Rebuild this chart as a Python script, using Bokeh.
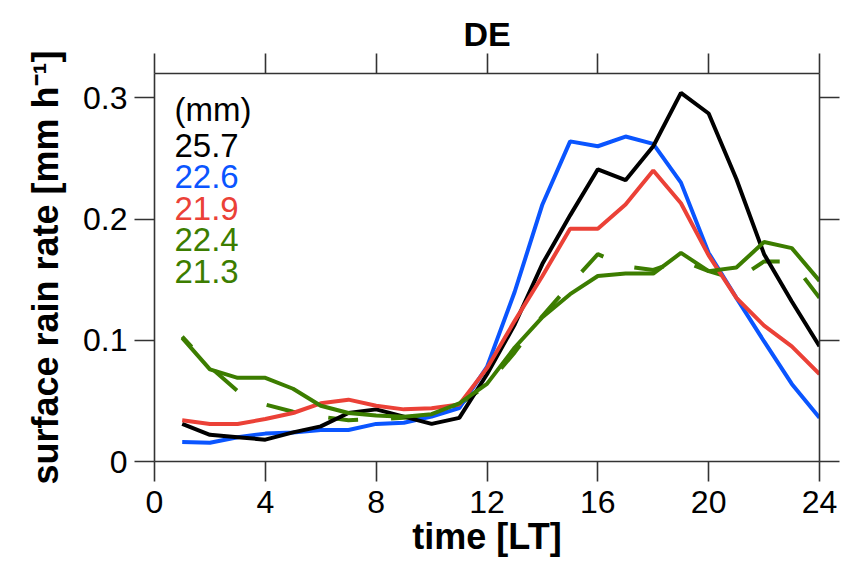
from bokeh.plotting import figure
from bokeh.models import LinearAxis, FixedTicker, Range1d, Label, Title
from bokeh.embed import file_html
from bokeh.resources import INLINE

# ---------------- data ----------------
hours = list(range(1, 25))
black = [0.031, 0.022, 0.020, 0.018, 0.024, 0.029, 0.040, 0.043, 0.037, 0.031, 0.036, 0.072,
         0.113, 0.163, 0.203, 0.241, 0.232, 0.260, 0.304, 0.287, 0.233, 0.171, 0.132, 0.095]
blue = [0.016, 0.0155, 0.020, 0.023, 0.024, 0.026, 0.026, 0.031, 0.032, 0.037, 0.044, 0.078,
        0.140, 0.212, 0.264, 0.260, 0.268, 0.262, 0.230, 0.172, 0.135, 0.099, 0.064, 0.036]
red = [0.034, 0.031, 0.031, 0.035, 0.040, 0.048, 0.051, 0.046, 0.043, 0.044, 0.047, 0.077,
       0.116, 0.153, 0.192, 0.192, 0.212, 0.240, 0.213, 0.170, 0.135, 0.112, 0.095, 0.072]
green_solid = [0.102, 0.076, 0.069, 0.069, 0.060, 0.046, 0.040, 0.038, 0.037, 0.039, 0.048, 0.064,
               0.094, 0.119, 0.138, 0.153, 0.155, 0.155, 0.172, 0.157, 0.160, 0.181, 0.176, 0.149]
green_dashed = [0.103, 0.078, 0.058, 0.047, 0.041, 0.037, 0.034, 0.035, 0.036, 0.038, 0.047, 0.063,
                0.090, 0.120, 0.146, 0.171, 0.161, 0.158, 0.166, 0.157, 0.150, 0.165, 0.165, 0.135]

legend_header = "(mm)"
legend_values = ["25.7", "22.6", "21.9", "22.4", "21.3"]
x_ticks = [0, 4, 8, 12, 16, 20, 24]
y_ticks = [0, 0.1, 0.2, 0.3]
y_tick_labels = ["0", "0.1", "0.2", "0.3"]
title_text = "DE"
x_label = "time [LT]"
y_label = "surface rain rate [mm h\u207b\u00b9]"

# ---------------- styles ----------------
C_BLACK = "#000000"
C_BLUE = "#0a55ff"
C_RED = "#eb4137"
C_GREEN = "#3c7d00"
legend_colors = [C_BLACK, C_BLUE, C_RED, C_GREEN, C_GREEN]
FONT = "Liberation Sans"
AX_COL = "#333333"

p = figure(frame_width=665, frame_height=388,
           x_range=Range1d(0, 24), y_range=Range1d(0, 0.32),
           output_backend="svg", toolbar_location=None,
           x_axis_location=None, y_axis_location=None, title=None,
           min_border_left=154, min_border_right=21, min_border_top=73, min_border_bottom=96)
p.outline_line_color = None
p.xgrid.visible = False
p.ygrid.visible = False
p.background_fill_color = "white"
p.border_fill_color = "white"


def make_axis(ticks, show, overrides=None):
    ax = LinearAxis(ticker=FixedTicker(ticks=ticks, minor_ticks=[]),
                    major_tick_out=20, major_tick_in=0,
                    minor_tick_out=0, minor_tick_in=0,
                    axis_line_color=AX_COL, axis_line_width=1.6,
                    major_tick_line_color=AX_COL, major_tick_line_width=1.6)
    if show:
        ax.major_label_text_font = FONT
        ax.major_label_text_font_size = "32px"
        ax.major_label_text_color = "black"
        if overrides:
            ax.major_label_overrides = overrides
    else:
        ax.major_label_text_font_size = "0px"
        ax.major_label_standoff = 0
        ax.major_label_text_alpha = 0
    return ax


bottom = make_axis(x_ticks, True)
bottom.major_label_standoff = 9
bottom.axis_label = x_label
bottom.axis_label_text_font = FONT
bottom.axis_label_text_font_style = "bold"
bottom.axis_label_text_font_size = "36px"
bottom.axis_label_text_color = "black"
bottom.axis_label_standoff = 0
p.add_layout(bottom, "below")

left = make_axis(y_ticks, True, {t: l for t, l in zip(y_ticks, y_tick_labels)})
left.major_label_standoff = 7
left.axis_label = y_label
left.axis_label_text_font = FONT
left.axis_label_text_font_style = "bold"
left.axis_label_text_font_size = "36px"
left.axis_label_text_color = "black"
left.axis_label_standoff = 14
p.add_layout(left, "left")

# top axis: blank labels only reserve a little room between ticks and title
top = make_axis(x_ticks, False)
top.major_label_text_font = FONT
top.major_label_text_font_size = "8px"
top.major_label_standoff = 0
top.major_label_overrides = {t: " " for t in x_ticks}
p.add_layout(top, "above")
p.add_layout(make_axis(y_ticks, False), "right")

p.add_layout(Title(text=title_text, text_font=FONT, text_font_size="34px", text_font_style="bold",
                   text_color="black", align="center", standoff=2), "above")

LW = 4
p.line(hours, green_dashed, line_color=C_GREEN, line_width=LW, line_dash="30 33", line_dash_offset=16)
p.line(hours, blue, line_color=C_BLUE, line_width=LW)
p.line(hours, black, line_color=C_BLACK, line_width=LW)
p.line(hours, red, line_color=C_RED, line_width=LW)
p.line(hours, green_solid, line_color=C_GREEN, line_width=LW)

# legend as coloured text
leg_x = 0.72
p.add_layout(Label(x=leg_x, y=0.2901, text=legend_header, text_font=FONT, text_font_size="33px",
                   text_color="black", text_baseline="alphabetic", text_align="left"))
for i, (txt, col) in enumerate(zip(legend_values, legend_colors)):
    p.add_layout(Label(x=leg_x, y=0.2607 - i * 0.026, text=txt, text_font=FONT, text_font_size="33px",
                       text_color=col, text_baseline="alphabetic", text_align="left"))

open("out.html", "w").write(file_html(p, INLINE))
